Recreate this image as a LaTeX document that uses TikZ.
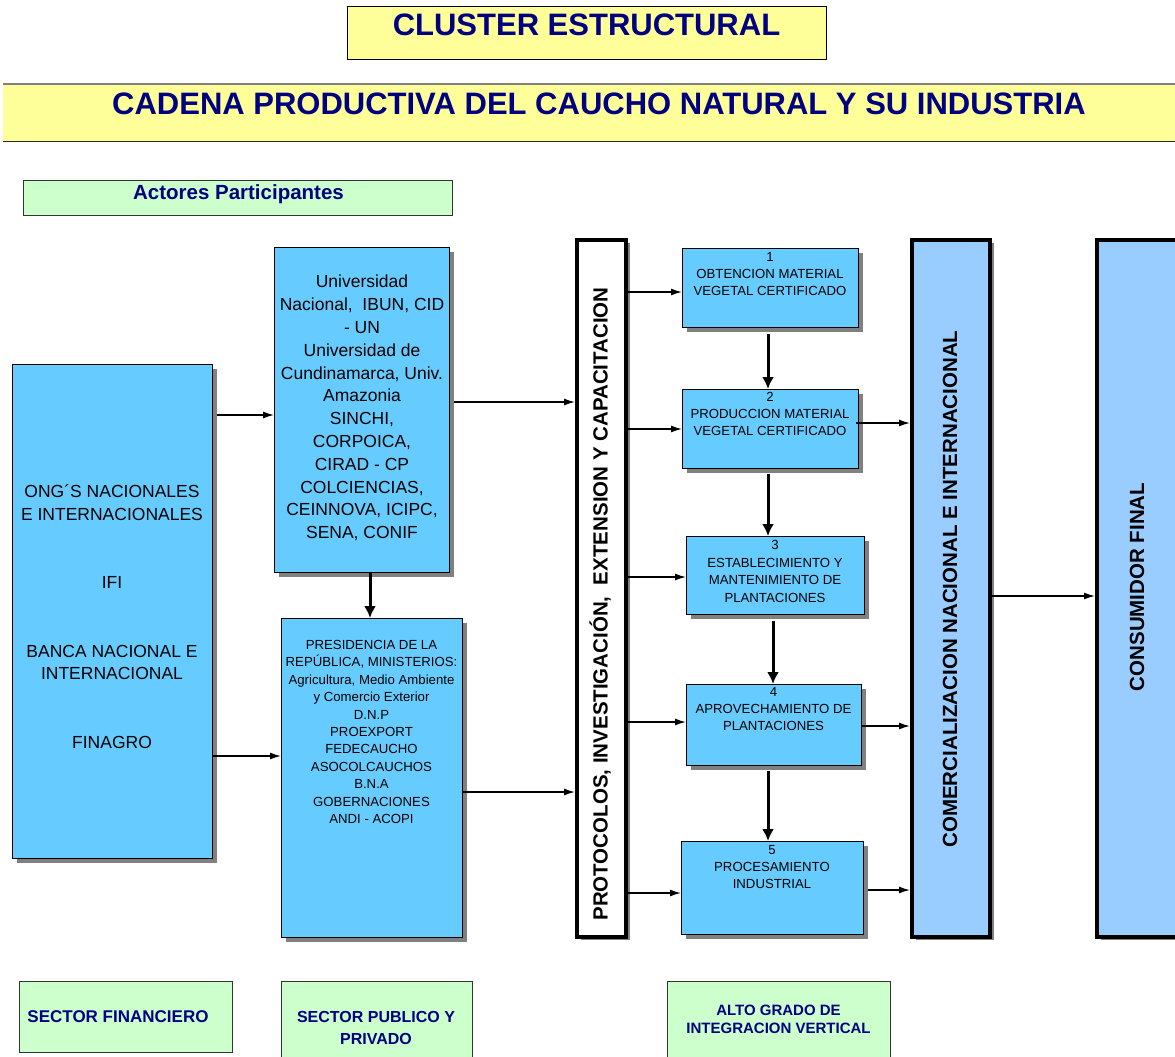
\documentclass[tikz,border=0pt]{standalone}
\usepackage{fontspec}
\setmainfont{Liberation Sans}
\usetikzlibrary{arrows.meta,shadows}
\definecolor{skyb}{HTML}{66CCFF}
\definecolor{paleb}{HTML}{99CCFF}
\definecolor{yel}{HTML}{FFFF99}
\definecolor{grn}{HTML}{CCFFCC}
\definecolor{navyt}{HTML}{000080}
\definecolor{shd}{HTML}{808080}
\begin{document}
\begin{tikzpicture}[x=1pt,y=-1pt,
  shadowed/.style={drop shadow={shadow xshift=4pt,shadow yshift=-4pt,fill=shd,opacity=1}},
  box/.style={draw=black,line width=1pt,fill=skyb,inner sep=0pt,anchor=north west,shadowed},
  tallbox/.style={draw=black,line width=4pt,inner sep=0pt,anchor=north west,
     drop shadow={shadow xshift=4pt,shadow yshift=-3pt,fill=shd,opacity=1}},
  greenbox/.style={draw=black!80,line width=1pt,fill=grn,inner sep=0pt,anchor=north west},
  ttl/.style={font=\fontsize{31}{36}\selectfont\bfseries,text=navyt,inner sep=0pt},
  gtxt/.style={font=\bfseries,text=navyt,align=center,inner sep=0pt},
  bigtxt/.style={font=\fontsize{17.5}{22.8}\selectfont,align=center,inner sep=0pt},
  smalltxt/.style={font=\fontsize{13.2}{17.4}\selectfont,align=center,inner sep=0pt},
  rottxt/.style={font=\fontsize{20.5}{24}\selectfont\bfseries,rotate=90,inner sep=0pt},
  thinarr/.style={line width=1.4pt,-{Latex[length=11pt,width=7pt]}},
  thickarr/.style={line width=3pt,-{Latex[length=12pt,width=12pt]}}
]
\useasboundingbox (0,0) rectangle (1175,1057);
\fill[white] (0,0) rectangle (1175,1057);

% titles
\node[draw=black,line width=1pt,fill=yel,anchor=north west,inner sep=0pt,
      minimum width=479pt,minimum height=53pt] (cluster) at (347,6) {};
\node[ttl] (clusterT) at (586.5,25) {CLUSTER ESTRUCTURAL};

\node[fill=yel,anchor=north west,inner sep=0pt,minimum width=1180pt,minimum height=57pt] (banner) at (3,84) {};
\draw[shd,line width=2pt] (banner.north west) -- (banner.north east);
\draw[black!85,line width=1.6pt] (banner.south west) -- (banner.south east);
\node[ttl] (bannerT) at (599,104) {CADENA PRODUCTIVA DEL CAUCHO NATURAL Y SU INDUSTRIA};

\node[greenbox,minimum width=429pt,minimum height=35pt] (actores) at (23,180) {};
\node[gtxt,font=\fontsize{20.5}{24}\selectfont\bfseries] (actoresT) at (238.5,194) {Actores Participantes};

% left box
\node[box,minimum width=200pt,minimum height=494pt] (left) at (12,364) {};
\node[bigtxt] (leftT) at (112,616.5) {ONG´S NACIONALES\\E INTERNACIONALES\\\mbox{}\\\mbox{}\\IFI\\\mbox{}\\\mbox{}\\BANCA NACIONAL E\\INTERNACIONAL\\\mbox{}\\\mbox{}\\FINAGRO};

% top middle box
\node[box,minimum width=175pt,minimum height=325pt] (topmid) at (274,247) {};
\node[bigtxt] (topmidT) at (362,408) {Universidad\\Nacional,~ IBUN, CID\\- UN\\Universidad de\\Cundinamarca, Univ.\\Amazonia\\SINCHI,\\CORPOICA,\\CIRAD - CP\\COLCIENCIAS,\\CEINNOVA, ICIPC,\\SENA, CONIF};

% bottom middle box
\node[box,minimum width=181pt,minimum height=319pt] (botmid) at (281,618) {};
\node[smalltxt] (botmidT) at (371.5,732) {PRESIDENCIA DE LA\\REPÚBLICA, MINISTERIOS:\\Agricultura, Medio Ambiente\\y Comercio Exterior\\D.N.P\\PROEXPORT\\FEDECAUCHO\\ASOCOLCAUCHOS\\B.N.A\\GOBERNACIONES\\ANDI - ACOPI};

% protocol box
\node[tallbox,fill=white,minimum width=49pt,minimum height=697pt] (proto) at (575,238) {};
\node[rottxt] (protoT) at (600,604) {PROTOCOLOS, INVESTIGACIÓN,~ EXTENSION Y CAPACITACION};

% steps
\node[box,minimum width=176pt,minimum height=79pt] (s1) at (682,248) {};
\node[smalltxt] (s1T) at (770,274) {1\\OBTENCION MATERIAL\\VEGETAL CERTIFICADO};
\node[box,minimum width=176pt,minimum height=79pt] (s2) at (682,389) {};
\node[smalltxt] (s2T) at (770,414) {2\\PRODUCCION MATERIAL\\VEGETAL CERTIFICADO};
\node[box,minimum width=178pt,minimum height=78pt] (s3) at (686,536) {};
\node[smalltxt] (s3T) at (775,571.5) {3\\ESTABLECIMIENTO Y\\MANTENIMIENTO DE\\PLANTACIONES};
\node[box,minimum width=175pt,minimum height=81pt] (s4) at (686,684) {};
\node[smalltxt] (s4T) at (773.5,709) {4\\APROVECHAMIENTO DE\\PLANTACIONES};
\node[box,minimum width=182pt,minimum height=93pt] (s5) at (681,841) {};
\node[smalltxt] (s5T) at (772,867) {5\\PROCESAMIENTO\\INDUSTRIAL};

% right boxes
\node[tallbox,fill=paleb,minimum width=78pt,minimum height=697pt] (comm) at (910,238) {};
\node[rottxt] (commT) at (950,589) {COMERCIALIZACION NACIONAL E INTERNACIONAL};
\node[tallbox,fill=paleb,minimum width=100pt,minimum height=697pt] (cons) at (1095,238) {};
\node[rottxt] (consT) at (1137,587) {CONSUMIDOR FINAL};

% bottom labels
\node[greenbox,minimum width=213pt,minimum height=71pt] (sf) at (19,981) {};
\node[gtxt,font=\fontsize{17}{20}\selectfont\bfseries] (sfT) at (118,1017) {SECTOR FINANCIERO};
\node[greenbox,minimum width=191pt,minimum height=90pt] (spp) at (281,981) {};
\node[gtxt,font=\fontsize{16}{22}\selectfont\bfseries] (sppT) at (376,1028) {SECTOR PUBLICO Y\\PRIVADO};
\node[greenbox,minimum width=223pt,minimum height=90pt] (alto) at (667,981) {};
\node[gtxt,font=\fontsize{15}{18}\selectfont\bfseries] (altoT) at (778.5,1019) {ALTO GRADO DE\\INTEGRACION VERTICAL};

% connectors
\draw[thinarr,shorten <=4pt] (left.east |- 0,415) -- (topmid.west |- 0,415);
\draw[thinarr] (left.east |- 0,756) -- (botmid.west |- 0,756);
\draw[thickarr] (370,0 |- topmid.south) -- (370,0 |- botmid.north);
\draw[thinarr,shorten <=4pt] (topmid.east |- 0,402) -- (proto.west |- 0,402);
\draw[thinarr] (botmid.east |- 0,792) -- (proto.west |- 0,792);

\draw[thinarr] (proto.east |- 0,292) -- (s1.west |- 0,292);
\draw[thinarr] (proto.east |- 0,429) -- (s2.west |- 0,429);
\draw[thinarr] (proto.east |- 0,577) -- (s3.west |- 0,577);
\draw[thinarr] (proto.east |- 0,722) -- (s4.west |- 0,722);
\draw[thinarr] (proto.east |- 0,893) -- (s5.west |- 0,893);

\draw[thickarr,shorten <=6pt] (768,0 |- s1.south) -- (768,0 |- s2.north);
\draw[thickarr,shorten <=5pt] (768,0 |- s2.south) -- (768,0 |- s3.north);
\draw[thickarr,shorten <=6pt] (773,0 |- s3.south) -- (773,0 |- s4.north);
\draw[thickarr,shorten <=5pt] (768,0 |- s4.south) -- (768,0 |- s5.north);

\draw[thinarr,shorten <=-3pt] (s2.east |- 0,423) -- (comm.west |- 0,423);
\draw[thinarr] (s4.east |- 0,726) -- (comm.west |- 0,726);
\draw[thinarr,shorten <=4pt] (s5.east |- 0,890) -- (comm.west |- 0,890);
\draw[thinarr] (comm.east |- 0,596) -- (cons.west |- 0,596);
\end{tikzpicture}
\end{document}
